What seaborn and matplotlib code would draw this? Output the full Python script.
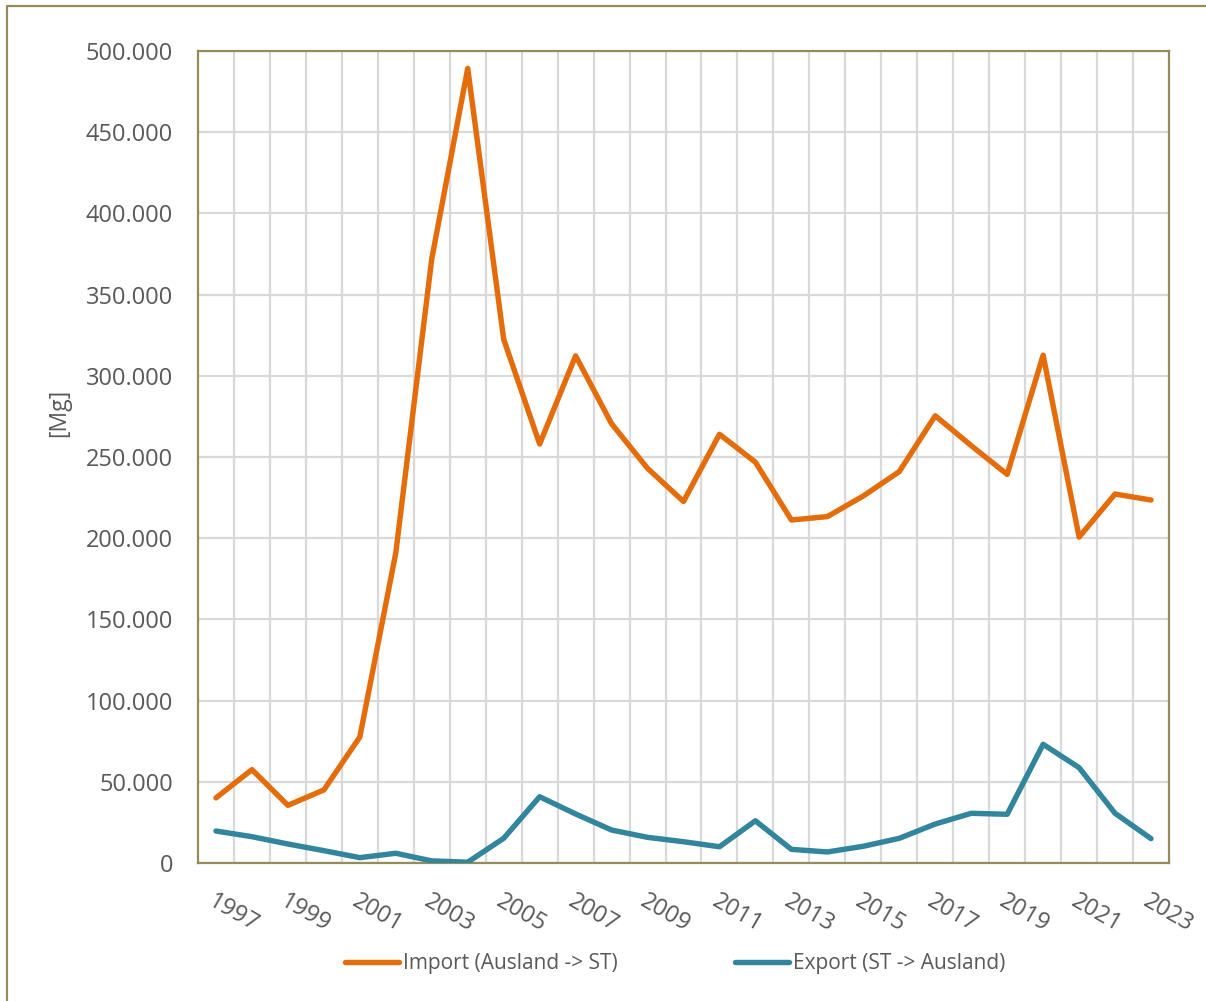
import matplotlib
matplotlib.use("Agg")
import matplotlib.pyplot as plt
from matplotlib.ticker import FixedLocator, FuncFormatter
from matplotlib.lines import Line2D
import numpy as np
import pandas as pd
import seaborn as sns

# Jahre 1997-2023
years = list(range(1997, 2024))

# Import (Ausland -> ST) in Mg
import_mg = [40100, 57500, 35500, 45000, 77600, 191000, 372000, 489300,
             322500, 258000, 312300, 270500, 243000, 222600, 264000, 246800,
             211200, 213300, 226000, 241000, 275400, 257000, 239300, 312700,
             200700, 227200, 223500]

# Export (ST -> Ausland) in Mg
export_mg = [19700, 16200, 11700, 7600, 3300, 6000, 1300, 500,
             15200, 40800, 30200, 20300, 15800, 13100, 10000, 26000,
             8400, 6800, 10300, 15200, 24000, 30600, 30000, 73100,
             58700, 30600, 15000]

series_names = ["Import (Ausland -> ST)", "Export (ST -> Ausland)"]
series_colors = ["#E46C0A", "#31859C"]
y_ticks = list(range(0, 500001, 50000))

TEXT = "#595959"
FRAME = "#968C5A"
GRID = "#D9D9D9"

sns.set_theme(style="white")
plt.rcParams["font.family"] = ["Open Sans", "DejaVu Sans"]

df = pd.DataFrame({
    "pos": list(range(len(years))) * 2,
    "value": import_mg + export_mg,
    "series": [series_names[0]] * len(years) + [series_names[1]] * len(years),
})

fig = plt.figure(figsize=(12.06, 10.01), dpi=100)
ax = fig.add_axes([198 / 1206, 1 - 863 / 1001, 971 / 1206, 812 / 1001])

sns.lineplot(data=df, x="pos", y="value", hue="series", hue_order=series_names,
             palette=series_colors, linewidth=3.9, sort=False, legend=False,
             ax=ax, solid_capstyle="round", solid_joinstyle="round", zorder=3)

n = len(years)
ax.set_xlim(-0.5, n - 0.5)
ax.set_ylim(0, 500000)

# category ticks: labels every second year, grid between categories
ax.xaxis.set_major_locator(FixedLocator(list(range(0, n, 2))))
ax.set_xticklabels([str(y) for y in years[::2]])
ax.xaxis.set_minor_locator(FixedLocator([k + 0.5 for k in range(n - 1)]))
ax.yaxis.set_major_locator(FixedLocator(y_ticks))
ax.yaxis.set_major_formatter(FuncFormatter(lambda v, _: f"{int(v):,}".replace(",", ".")))

ax.grid(False)
ax.grid(which="minor", axis="x", color=GRID, linewidth=1.6, zorder=0)
ax.grid(which="major", axis="y", color=GRID, linewidth=1.6, zorder=0)
ax.set_axisbelow(True)

ax.tick_params(axis="both", which="both", length=0)
ax.tick_params(axis="y", labelsize=17, labelcolor=TEXT, pad=18)
ax.tick_params(axis="x", labelsize=17, labelcolor=TEXT, pad=19)
for lbl in ax.get_xticklabels():
    lbl.set_rotation(-30)
    lbl.set_rotation_mode("anchor")
    lbl.set_ha("left")
    lbl.set_va("top")

for sp in ax.spines.values():
    sp.set_visible(True)
    sp.set_color(FRAME)
    sp.set_linewidth(1.6)

ax.set_xlabel("")
ax.set_ylabel("")
fig.text(59 / 1206, 1 - 413 / 1001, "[Mg]", rotation=90, ha="center", va="center",
         fontsize=16.5, color=TEXT)

handles = [Line2D([0], [0], color=c, linewidth=3.9, solid_capstyle="round") for c in series_colors]
fig.legend(handles, series_names, loc="center", bbox_to_anchor=(675 / 1206, 1 - 964 / 1001),
           ncol=2, frameon=False, fontsize=15, labelcolor=TEXT,
           handlelength=2.6, handletextpad=0.2, columnspacing=5.6)

# outer chart frame (left and top edges)
fig.add_artist(Line2D([7 / 1206, 7 / 1206], [0, 1 - 6 / 1001], transform=fig.transFigure,
                      color=FRAME, linewidth=1.6))
fig.add_artist(Line2D([7 / 1206, 1], [1 - 6 / 1001, 1 - 6 / 1001], transform=fig.transFigure,
                      color=FRAME, linewidth=1.6))

fig.savefig("out.png", dpi=100, facecolor="white")
